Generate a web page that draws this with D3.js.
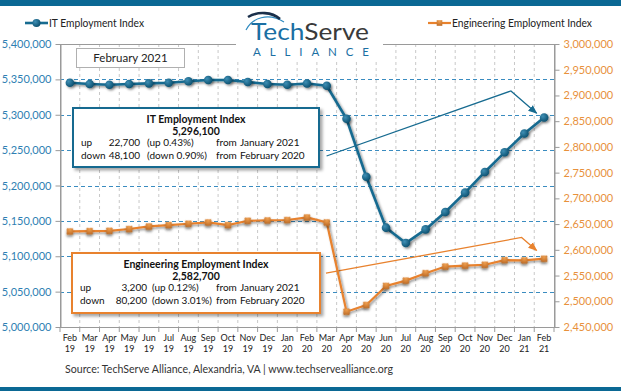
<!DOCTYPE html>
<html><head><meta charset="utf-8">
<script src="https://cdn.jsdelivr.net/npm/d3@7"></script>
<style>
html,body{margin:0;padding:0;background:#fff;}
svg{display:block;font-family:Lato,"Open Sans",sans-serif;}
</style></head>
<body>
<svg id="chart" width="621" height="391"></svg>
<script>
const months = ["Feb","Mar","Apr","May","Jun","Jul","Aug","Sep","Oct","Nov","Dec","Jan","Feb","Mar","Apr","May","Jun","Jul","Aug","Sep","Oct","Nov","Dec","Jan","Feb"];
const years = ["19","19","19","19","19","19","19","19","19","19","19","20","20","20","20","20","20","20","20","20","20","20","20","21","21"];
const itValues = [5345300,5343500,5342500,5343500,5344400,5345300,5347300,5349100,5349100,5346300,5343500,5342500,5344200,5341000,5294400,5212400,5140400,5118700,5138000,5162500,5189900,5219100,5246900,5273400,5296100];
const engValues = [2635700,2636400,2637000,2640400,2645400,2648100,2650700,2653200,2648100,2656500,2657100,2657900,2662900,2653200,2479800,2492900,2529900,2540200,2554600,2567500,2569400,2571000,2580000,2579500,2582700];
const leftTicks = [5000000,5050000,5100000,5150000,5200000,5250000,5300000,5350000,5400000];
const rightTicks = [2450000,2500000,2550000,2600000,2650000,2700000,2750000,2800000,2850000,2900000,2950000,3000000];
const seriesNames = ["IT Employment Index","Engineering Employment Index"];
const itArrow = [[12.99,5241700],[22.32,5333600],[23.62,5302100]];
const engArrow = [[12.96,2554600],[22.86,2624000],[23.62,2598700]];

const BLUE = "#176b90", ORANGE = "#e8822e";
const svg = d3.select("#chart");
const L = 60, R = 554, T = 44, B = 327;
const cats = months.map((m,i)=>m+" "+years[i]);
const x = d3.scaleBand().domain(cats).range([L,R]).padding(0);
const cx = i => x(cats[i]) + x.bandwidth()/2;
const xi = v => L + (v+0.5)*x.bandwidth();
const yL = d3.scaleLinear().domain([5000000,5400000]).range([B,T]);
const yR = d3.scaleLinear().domain([2450000,3000000]).range([B,T]);
const fmt = d3.format(",");

const defs = svg.append("defs");
const f = defs.append("filter").attr("id","sh").attr("x","-50%").attr("y","-50%").attr("width","200%").attr("height","200%");
f.append("feDropShadow").attr("dx",1.5).attr("dy",1.5).attr("stdDeviation",1).attr("flood-color","#000").attr("flood-opacity",0.45);
const f2 = defs.append("filter").attr("id","bsh").attr("x","-10%").attr("y","-10%").attr("width","130%").attr("height","130%");
f2.append("feDropShadow").attr("dx",2.5).attr("dy",2.5).attr("stdDeviation",1.5).attr("flood-color","#000").attr("flood-opacity",0.35);
const gb = defs.append("radialGradient").attr("id","gb").attr("cx","35%").attr("cy","35%").attr("r","70%");
gb.append("stop").attr("offset","0%").attr("stop-color","#3f8fb5");
gb.append("stop").attr("offset","100%").attr("stop-color","#0b4f6e");
const go = defs.append("radialGradient").attr("id","go").attr("cx","35%").attr("cy","35%").attr("r","70%");
go.append("stop").attr("offset","0%").attr("stop-color","#f0a050");
go.append("stop").attr("offset","100%").attr("stop-color","#b3601c");

// top/bottom bars
svg.append("rect").attr("x",0).attr("y",0).attr("width",621).attr("height",6).attr("fill","#0b6894");
svg.append("rect").attr("x",0).attr("y",387).attr("width",621).attr("height",4).attr("fill","#0b6894");

// vertical gridlines at category boundaries
svg.append("g").selectAll("line").data(cats.slice(1)).join("line")
  .attr("x1",d=>x(d)).attr("x2",d=>x(d)).attr("y1",T).attr("y2",B)
  .attr("stroke","#c8c8c8").attr("stroke-dasharray","3,3").attr("stroke-width",1);
// horizontal gridlines
svg.append("g").selectAll("line").data(leftTicks.slice(1,-1)).join("line")
  .attr("x1",L).attr("x2",R).attr("y1",d=>Math.round(yL(d))+0.5).attr("y2",d=>Math.round(yL(d))+0.5)
  .attr("stroke","#3a8cc0").attr("stroke-dasharray","4,3").attr("stroke-width",1);
// frame
svg.append("rect").attr("x",L+0.5).attr("y",T+0.5).attr("width",R-L).attr("height",B-T)
  .attr("fill","none").attr("stroke","#9a9a9a");

// axes
const gl = svg.append("g").attr("transform",`translate(${L+0.5},0)`)
  .call(d3.axisLeft(yL).tickValues(leftTicks).tickFormat(fmt).tickSize(5).tickSizeOuter(0));
gl.select(".domain").attr("stroke","#9a9a9a");
gl.selectAll(".tick line").attr("stroke","#9a9a9a");
gl.selectAll(".tick text").attr("fill","#2f7fb3").attr("font-size","11px").attr("x",-9).attr("font-family","Lato");
const gr = svg.append("g").attr("transform",`translate(${R+0.5},0)`)
  .call(d3.axisRight(yR).tickValues(rightTicks).tickFormat(fmt).tickSize(5).tickSizeOuter(0));
gr.select(".domain").attr("stroke","#9a9a9a");
gr.selectAll(".tick line").attr("stroke","#9a9a9a");
gr.selectAll(".tick text").attr("fill","#e8913c").attr("font-size","11px").attr("x",9).attr("font-family","Lato");
// bottom axis ticks at boundaries
svg.append("line").attr("x1",L).attr("x2",R).attr("y1",B+0.5).attr("y2",B+0.5).attr("stroke","#9a9a9a");
svg.append("g").selectAll("line").data(cats.concat(["end"])).join("line")
  .attr("x1",(d,i)=>L+i*x.bandwidth()).attr("x2",(d,i)=>L+i*x.bandwidth())
  .attr("y1",B).attr("y2",B+5).attr("stroke","#9a9a9a");
const xl = svg.append("g").selectAll("text").data(cats).join("text")
  .attr("text-anchor","middle").attr("font-size","9px").attr("fill","#222");
xl.append("tspan").attr("x",(d,i)=>cx(i)).attr("y",341).text((d,i)=>months[i]);
xl.append("tspan").attr("x",(d,i)=>cx(i)).attr("y",352).text((d,i)=>years[i]);

// annotation arrows
defs.append("marker").attr("id","ab").attr("viewBox","0 0 10 10").attr("refX",9).attr("refY",5)
  .attr("markerWidth",7).attr("markerHeight",7).attr("orient","auto")
  .append("path").attr("d","M0,1 L10,5 L0,9 z").attr("fill",BLUE);
defs.append("marker").attr("id","ao").attr("viewBox","0 0 10 10").attr("refX",9).attr("refY",5)
  .attr("markerWidth",7).attr("markerHeight",7).attr("orient","auto")
  .append("path").attr("d","M0,1 L10,5 L0,9 z").attr("fill",ORANGE);
svg.append("path").attr("d",d3.line().x(d=>xi(d[0])).y(d=>yL(d[1]))(itArrow))
  .attr("fill","none").attr("stroke",BLUE).attr("stroke-width",1.3).attr("marker-end","url(#ab)");
svg.append("path").attr("d",d3.line().x(d=>xi(d[0])).y(d=>yR(d[1]))(engArrow))
  .attr("fill","none").attr("stroke",ORANGE).attr("stroke-width",1.3).attr("marker-end","url(#ao)");

// series
const itLine = d3.line().x((d,i)=>cx(i)).y(d=>yL(d));
const engLine = d3.line().x((d,i)=>cx(i)).y(d=>yR(d));
svg.append("path").attr("d",engLine(engValues)).attr("fill","none").attr("stroke",ORANGE).attr("stroke-width",2.2).attr("filter","url(#sh)");
svg.append("g").selectAll("path").data(engValues).join("path")
  .attr("d",d3.symbol(d3.symbolDiamond2,52)).attr("transform",(d,i)=>`translate(${cx(i)},${yR(d)}) rotate(45) `)
  .attr("fill","url(#go)").attr("filter","url(#sh)");
svg.append("path").attr("d",itLine(itValues)).attr("fill","none").attr("stroke",BLUE).attr("stroke-width",2.6).attr("filter","url(#sh)");
svg.append("g").selectAll("circle").data(itValues).join("circle")
  .attr("cx",(d,i)=>cx(i)).attr("cy",d=>yL(d)).attr("r",4.3)
  .attr("fill","url(#gb)").attr("filter","url(#sh)");

// Feb 2021 box
svg.append("rect").attr("x",76.5).attr("y",48.5).attr("width",108).attr("height",19).attr("fill","#fff").attr("stroke","#b0b0b0");
svg.append("text").attr("x",130.5).attr("y",62).attr("text-anchor","middle").attr("font-size","11.5px").attr("fill","#222").text("February 2021");

// info boxes
function infoBox(bx,by,bw,bh,color,title,value,rows,numRight,pctX){
  const g = svg.append("g");
  g.append("rect").attr("x",bx).attr("y",by).attr("width",bw).attr("height",bh)
    .attr("fill","#fff").attr("stroke",color).attr("stroke-width",2).attr("filter","url(#bsh)");
  const mid = bx+bw/2;
  g.append("text").attr("x",mid).attr("y",by+15).attr("text-anchor","middle").attr("font-weight","bold").attr("font-size","10.5px").attr("fill","#111").text(title);
  g.append("text").attr("x",mid).attr("y",by+27).attr("text-anchor","middle").attr("font-weight","bold").attr("font-size","10.5px").attr("fill","#111").text(value);
  rows.forEach((r,k)=>{
    const yy = by+38+k*12.5;
    const t = (xx,s,anchor)=>g.append("text").attr("x",xx).attr("y",yy).attr("text-anchor",anchor||"start").attr("font-size","10px").attr("fill","#111").text(s);
    t(bx+8,r[0]);
    t(numRight,r[1],"end");
    t(pctX,r[2]);
    t(216,"from");
    t(240,r[3]);
  });
}
infoBox(73,108,246,59,BLUE,"IT Employment Index",fmt(itValues[24]),
  [["up",fmt(itValues[24]-itValues[23]),"(up 0.43%)","January 2021"],["down",fmt(itValues[12]-itValues[24]),"(down 0.90%)","February 2020"]],140,147);
infoBox(72,253,248,60,ORANGE,"Engineering Employment Index",fmt(engValues[24]),
  [["up",fmt(engValues[24]-engValues[23]),"(up 0.12%)","January 2021"],["down",fmt(engValues[12]-engValues[24]),"(down 3.01%)","February 2020"]],147,152);

// legends
svg.append("line").attr("x1",25).attr("x2",48).attr("y1",23).attr("y2",23).attr("stroke",BLUE).attr("stroke-width",2.6);
svg.append("circle").attr("cx",36.5).attr("cy",23).attr("r",4).attr("fill","url(#gb)");
svg.append("text").attr("x",49).attr("y",27).attr("font-size","11px").attr("fill","#222").attr("textLength",95).attr("lengthAdjust","spacingAndGlyphs").text(seriesNames[0]);
svg.append("line").attr("x1",428).attr("x2",451).attr("y1",23).attr("y2",23).attr("stroke",ORANGE).attr("stroke-width",2.2);
svg.append("path").attr("d",d3.symbol(d3.symbolDiamond2,40)).attr("transform","translate(439.5,23) rotate(45)").attr("fill","url(#go)");
svg.append("text").attr("x",452).attr("y",27).attr("font-size","11px").attr("fill","#222").attr("textLength",140).attr("lengthAdjust","spacingAndGlyphs").text(seriesNames[1]);

// logo
svg.append("rect").attr("x",236).attr("y",8).attr("width",147).attr("height",54).attr("fill","#fff");
svg.append("path").attr("d","M246,30 C252,18 268,12 284,22").attr("fill","none").attr("stroke","#2d8ac0").attr("stroke-width",1.2);
svg.append("path").attr("d","M248,17 C258,11 272,12 280,19").attr("fill","none").attr("stroke","#1a2f4a").attr("stroke-width",2.6);
const lt = svg.append("text").attr("x",251).attr("y",40).attr("font-size","23px").attr("font-family","Lato").attr("textLength",118).attr("lengthAdjust","spacingAndGlyphs");
lt.append("tspan").attr("fill","#1b6fa3").text("Tech");
lt.append("tspan").attr("fill","#3a3a3a").text("Serve");
svg.append("text").attr("x",253).attr("y",56).attr("font-size","11.5px").attr("fill","#1b6fa3").attr("textLength",116).attr("lengthAdjust","spacing").text("ALLIANCE");

// source
svg.append("text").attr("x",65).attr("y",373).attr("font-size","11px").attr("fill","#333").attr("textLength",328).attr("lengthAdjust","spacingAndGlyphs")
  .text("Source: TechServe  Alliance, Alexandria, VA | www.techservealliance.org");
</script>
</body></html>
